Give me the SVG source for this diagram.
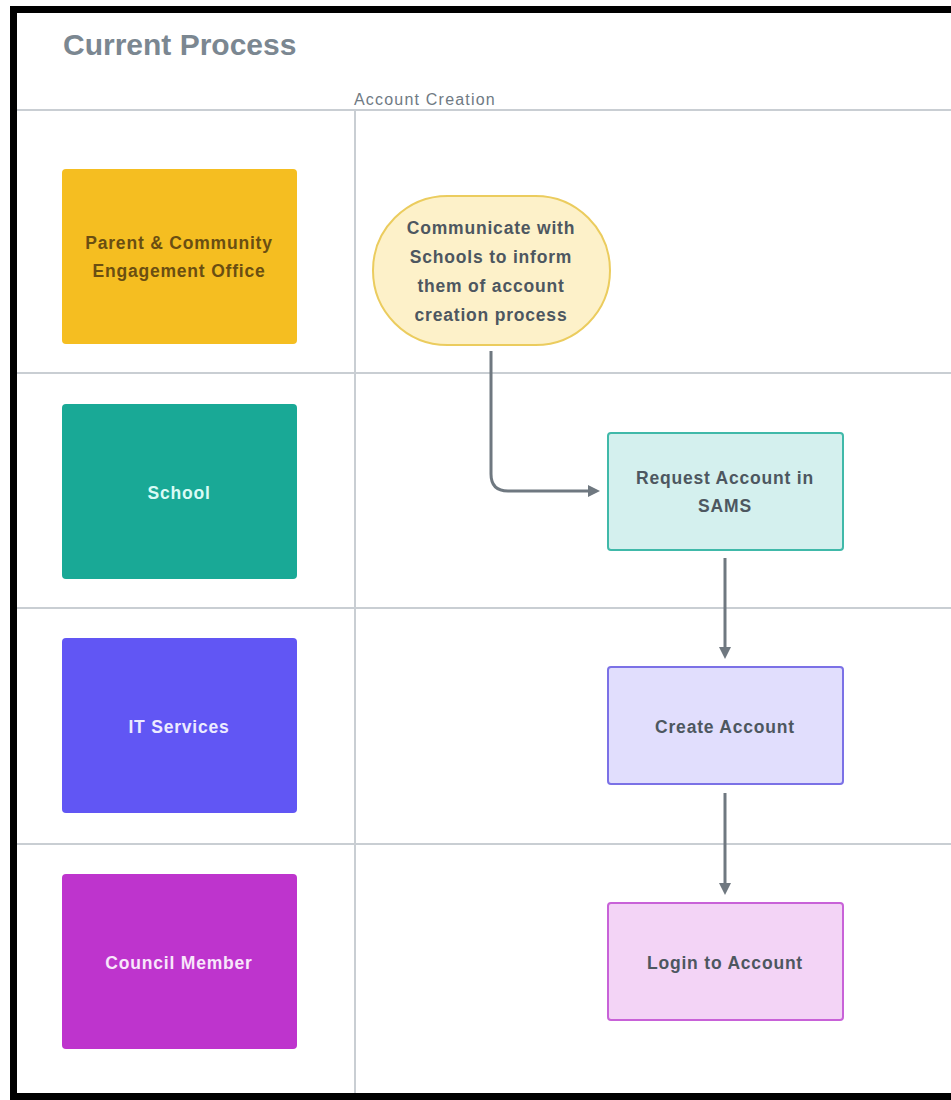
<svg xmlns="http://www.w3.org/2000/svg" width="951" height="1100" viewBox="0 0 951 1100">
<style>
.t{font-family:"Liberation Sans",Arial,sans-serif;font-size:17.5px;text-anchor:middle;font-weight:bold;letter-spacing:0.8px}
.lane{fill:none;stroke:#c9ced3;stroke-width:2}
.con{fill:none;stroke:#6f7880;stroke-width:3}
.dark{fill:#4d5760}
</style>
<defs>
<marker id="ah" markerWidth="12" markerHeight="12" refX="6" refY="6" orient="auto" markerUnits="userSpaceOnUse" viewBox="0 0 12 12">
<path d="M0,0 L12,6 L0,12 Z" fill="#6f7880"/>
</marker>
</defs>
<rect x="0" y="0" width="951" height="1100" fill="#ffffff"/>
<g id="frame">
<line class="lane" x1="17" y1="110" x2="951" y2="110"/>
<line class="lane" x1="355" y1="110" x2="355" y2="1093"/>
<line class="lane" x1="17" y1="373" x2="951" y2="373"/>
<line class="lane" x1="17" y1="608" x2="951" y2="608"/>
<line class="lane" x1="17" y1="844" x2="951" y2="844"/>
<path d="M951,9.5 H13.5 V1096.5 H951" fill="none" stroke="#000" stroke-width="7"/>
<text x="63" y="55" style="font-family:'Liberation Sans',Arial,sans-serif;font-size:30px;font-weight:bold;fill:#7b8791">Current Process</text>
<text x="354" y="105" style="font-family:'Liberation Sans',Arial,sans-serif;font-size:16px;letter-spacing:1.2px;fill:#6f7a84">Account Creation</text>
</g>
<g id="lane-pceo">
<rect x="62" y="169" width="235" height="175" rx="4" fill="#f5be21"/>
<text class="t" x="179" y="249" fill="#6a4e12">Parent &amp; Community</text>
<text class="t" x="179" y="277" fill="#6a4e12">Engagement Office</text>
</g>
<g id="lane-school">
<rect x="62" y="404" width="235" height="175" rx="4" fill="#19a996"/>
<text class="t" x="179" y="499" fill="#d9fbf5">School</text>
</g>
<g id="lane-it">
<rect x="62" y="638" width="235" height="175" rx="4" fill="#6156f4"/>
<text class="t" x="179" y="733" fill="#ecebff">IT Services</text>
</g>
<g id="lane-council">
<rect x="62" y="874" width="235" height="175" rx="4" fill="#be34cd"/>
<text class="t" x="179" y="969" fill="#f8e6fb">Council Member</text>
</g>
<g id="connectors">
<path class="con" d="M491,351 V474 Q491,491 508,491 H594" marker-end="url(#ah)"/>
<line class="con" x1="725" y1="558" x2="725" y2="653" marker-end="url(#ah)"/>
<line class="con" x1="725" y1="793" x2="725" y2="889" marker-end="url(#ah)"/>
</g>
<g id="n-communicate">
<rect x="373" y="196" width="237" height="149" rx="74.5" fill="#fdf1c9" stroke="#ebcc5e" stroke-width="2"/>
<text class="t dark" x="491" y="234">Communicate with</text>
<text class="t dark" x="491" y="263">Schools to inform</text>
<text class="t dark" x="491" y="292">them of account</text>
<text class="t dark" x="491" y="321">creation process</text>
</g>
<g id="n-request">
<rect x="608" y="433" width="235" height="117" rx="3" fill="#d4f0ee" stroke="#40b9a9" stroke-width="2"/>
<text class="t dark" x="725" y="484">Request Account in</text>
<text class="t dark" x="725" y="512">SAMS</text>
</g>
<g id="n-create">
<rect x="608" y="667" width="235" height="117" rx="3" fill="#e1defd" stroke="#7b71e6" stroke-width="2"/>
<text class="t dark" x="725" y="733">Create Account</text>
</g>
<g id="n-login">
<rect x="608" y="903" width="235" height="117" rx="3" fill="#f3d4f6" stroke="#c862d8" stroke-width="2"/>
<text class="t dark" x="725" y="969">Login to Account</text>
</g>
</svg>
